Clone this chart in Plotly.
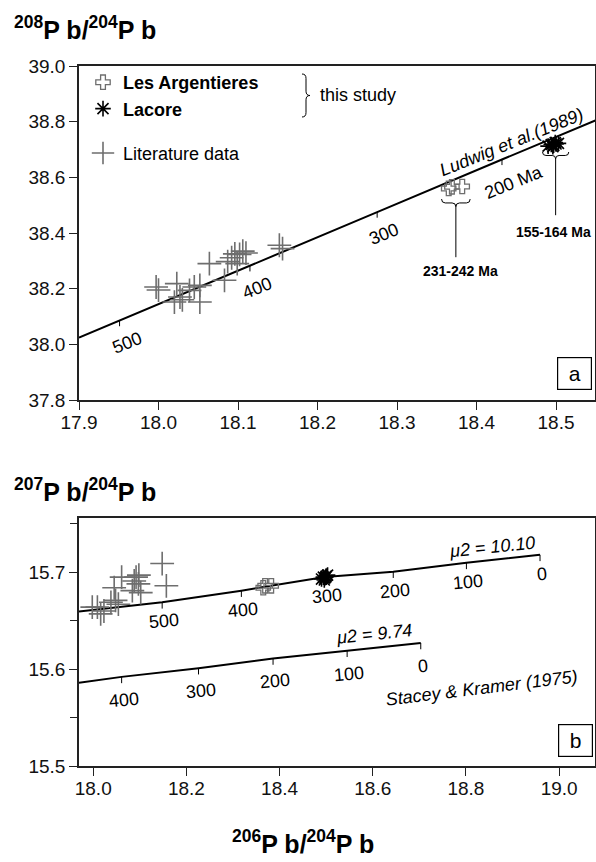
import plotly.graph_objects as go

# ---------------- data ----------------
# Panel a: 208Pb/204Pb vs 206Pb/204Pb
lud_x = [17.90, 17.951, 18.115, 18.275, 18.432, 18.55]
lud_y = [38.024, 38.085, 38.282, 38.475, 38.664, 38.805]
lud_age_lbl = ["500", "400", "300", "200 Ma"]
lud_age_x = [17.951, 18.115, 18.275, 18.432]
lud_age_y = [38.085, 38.282, 38.475, 38.664]

la_x = [18.365, 18.369, 18.382]
la_y208 = [38.560, 38.566, 38.567]
la_y207 = [15.684, 15.686, 15.686]

lac_x = [18.490, 18.494, 18.497, 18.500, 18.503, 18.496, 18.499]
lac_y208 = [38.712, 38.718, 38.715, 38.720, 38.722, 38.710, 38.725]
lac_y207 = [15.693, 15.695, 15.694, 15.696, 15.697, 15.692, 15.695]

lit_a_x = [17.997, 18.000, 18.023, 18.020, 18.027, 18.030, 18.039, 18.045, 18.052, 18.052,
           18.064, 18.083, 18.087, 18.092, 18.096, 18.099, 18.102, 18.106, 18.110, 18.152, 18.156]
lit_a_y = [38.206, 38.195, 38.218, 38.152, 38.170, 38.160, 38.194, 38.206, 38.212, 38.152,
           38.290, 38.230, 38.297, 38.311, 38.325, 38.290, 38.323, 38.335, 38.328, 38.356, 38.344]

# Panel b: 207Pb/204Pb vs 206Pb/204Pb
lit_b_x = [17.998, 18.009, 18.016, 18.023, 18.038, 18.045, 18.048, 18.054, 18.061, 18.084,
           18.088, 18.092, 18.097, 18.098, 18.102, 18.148, 18.157]
lit_b_y = [15.664, 15.664, 15.657, 15.660, 15.669, 15.684, 15.671, 15.667, 15.695, 15.681,
           15.691, 15.695, 15.688, 15.697, 15.679, 15.709, 15.686]

mu1010_x = [17.9695, 18.148, 18.318, 18.497, 18.644, 18.801, 18.959]
mu1010_y = [15.6595, 15.669, 15.681, 15.695, 15.7006, 15.7097, 15.718]
mu1010_age = [None, "500", "400", "300", "200", "100", "0"]

mu974_x = [17.9695, 18.061, 18.226, 18.386, 18.545, 18.703]
mu974_y = [15.586, 15.592, 15.601, 15.611, 15.619, 15.627]
mu974_age = [None, "400", "300", "200", "100", "0"]

# ---------------- layout helpers ----------------
W, H = 596, 862
ML, MR = 79, 1
PW = W - ML - MR
FONT = "Liberation Sans, Arial, sans-serif"
GRAY = "#6e6e6e"


def px(x):
    return (x - ML) / PW


def py(y):
    return 1 - y / H


fig = go.Figure()

# ---- panel a ----
fig.add_trace(go.Scatter(x=lud_x, y=lud_y, mode="lines", line=dict(color="black", width=2),
                         showlegend=False, hoverinfo="skip", xaxis="x", yaxis="y"))
tx, ty = [], []
for x, y in zip(lud_age_x, lud_age_y):
    tx += [x, x, None]
    ty += [y, y - 0.02, None]
fig.add_trace(go.Scatter(x=tx, y=ty, mode="lines", line=dict(color="black", width=1),
                         showlegend=False, hoverinfo="skip", xaxis="x", yaxis="y"))

fig.add_trace(go.Scatter(x=la_x, y=la_y208, mode="markers", name="<b>Les Argentieres</b>",
                         legendgroup="study",
                         marker=dict(symbol="cross-open", size=12, color=GRAY,
                                     line=dict(color=GRAY, width=1.3)),
                         xaxis="x", yaxis="y"))
fig.add_trace(go.Scatter(x=lac_x, y=lac_y208, mode="markers", name="<b>Lacore</b>",
                         legendgroup="study",
                         marker=dict(symbol="asterisk-open", size=13, color="black",
                                     line=dict(color="black", width=1.6)),
                         xaxis="x", yaxis="y"))
fig.add_trace(go.Scatter(x=lit_a_x, y=lit_a_y, mode="markers", name="Literature data",
                         legendgroup="lit",
                         marker=dict(symbol="cross-thin-open", size=17,
                                     line=dict(color=GRAY, width=1.6), color=GRAY),
                         xaxis="x", yaxis="y"))

# ---- panel b ----
for cx, cy in [(mu1010_x, mu1010_y), (mu974_x, mu974_y)]:
    fig.add_trace(go.Scatter(x=cx, y=cy, mode="lines", line=dict(color="black", width=2),
                             showlegend=False, hoverinfo="skip", xaxis="x2", yaxis="y2"))
tx, ty = [], []
for cx, cy, ca in [(mu1010_x, mu1010_y, mu1010_age), (mu974_x, mu974_y, mu974_age)]:
    for x, y, a in zip(cx, cy, ca):
        if a is None:
            continue
        tx += [x, x, None]
        ty += [y, y - 0.0065, None]
fig.add_trace(go.Scatter(x=tx, y=ty, mode="lines", line=dict(color="black", width=1),
                         showlegend=False, hoverinfo="skip", xaxis="x2", yaxis="y2"))

fig.add_trace(go.Scatter(x=lit_b_x, y=lit_b_y, mode="markers", showlegend=False,
                         marker=dict(symbol="cross-thin-open", size=17,
                                     line=dict(color=GRAY, width=1.6), color=GRAY),
                         xaxis="x2", yaxis="y2"))
fig.add_trace(go.Scatter(x=la_x, y=la_y207, mode="markers", showlegend=False,
                         marker=dict(symbol="cross-open", size=12, color=GRAY,
                                     line=dict(color=GRAY, width=1.3)),
                         xaxis="x2", yaxis="y2"))
fig.add_trace(go.Scatter(x=lac_x, y=lac_y207, mode="markers", showlegend=False,
                         marker=dict(symbol="asterisk-open", size=13, color="black",
                                     line=dict(color="black", width=1.6)),
                         xaxis="x2", yaxis="y2"))

# ---------------- annotations ----------------
ann = []
tick_font = dict(family=FONT, size=18, color="black")
for lbl, x, y in zip(lud_age_lbl, lud_age_x, lud_age_y):
    ann.append(dict(x=x, y=y, xref="x", yref="y", text=lbl, showarrow=False,
                    textangle=-22, xshift=7 + (5 if "Ma" in lbl else 0), yshift=-22,
                    font=tick_font))
ann.append(dict(x=18.4445, y=38.727, xref="x", yref="y", text="<i>Ludwig et al.(1989)</i>",
                showarrow=False, textangle=-22, font=tick_font))
ann.append(dict(x=18.380, y=38.263, xref="x", yref="y", text="<b>231-242 Ma</b>",
                showarrow=False, font=dict(family=FONT, size=14, color="black")))
ann.append(dict(x=18.497, y=38.4036, xref="x", yref="y", text="<b>155-164 Ma</b>",
                showarrow=False, font=dict(family=FONT, size=14, color="black")))

for cx, cy, ca, ys in [(mu1010_x, mu1010_y, mu1010_age, -19), (mu974_x, mu974_y, mu974_age, -23)]:
    for x, y, a in zip(cx, cy, ca):
        if a is None:
            continue
        ann.append(dict(x=x, y=y, xref="x2", yref="y2", text=a, showarrow=False,
                        textangle=-5, xshift=2, yshift=ys, font=tick_font))
ann.append(dict(x=18.855, y=15.726, xref="x2", yref="y2", text="<i>\u03bc2 = 10.10</i>",
                showarrow=False, textangle=-6, font=tick_font))
ann.append(dict(x=18.603, y=15.636, xref="x2", yref="y2", text="<i>\u03bc2 = 9.74</i>",
                showarrow=False, textangle=-6, font=tick_font))
ann.append(dict(x=18.834, y=15.5806, xref="x2", yref="y2", text="<i>Stacey & Kramer (1975)</i>",
                showarrow=False, textangle=-7, font=tick_font))

# panel letters
for letter, cxp, cyp in [("a", 574, 373), ("b", 575, 740)]:
    ann.append(dict(x=px(cxp), y=py(cyp), xref="paper", yref="paper", text=letter,
                    showarrow=False, width=25, height=23, borderpad=4,
                    xanchor="center", yanchor="middle",
                    bordercolor="black", borderwidth=1.2, bgcolor="white",
                    font=dict(family=FONT, size=21, color="black")))

# legend text
ann.append(dict(x=px(318), y=py(95), xref="paper", yref="paper", text="this study",
                xanchor="left", yanchor="middle", showarrow=False,
                font=dict(family=FONT, size=18, color="black")))

# axis titles
def pbtitle(n):
    return ("<b><sup>%s</sup>P b/<sup>204</sup>P b</b>" % n)

title_font = dict(family=FONT, size=25, color="black")
ann.append(dict(x=px(12), y=py(28), xref="paper", yref="paper", text=pbtitle("208"),
                xanchor="left", yanchor="middle", showarrow=False, font=title_font))
ann.append(dict(x=px(12), y=py(490), xref="paper", yref="paper", text=pbtitle("207"),
                xanchor="left", yanchor="middle", showarrow=False, font=title_font))
ann.append(dict(x=px(303), y=py(842), xref="paper", yref="paper", text=pbtitle("206"),
                xanchor="center", yanchor="middle", showarrow=False, font=title_font))

# ---------------- shapes ----------------
def hbrace(x0, x1, ytop, ytip):
    xm = (x0 + x1) / 2
    ym = (ytop + ytip) / 2
    q = (x1 - x0) * 0.13
    return (f"M{x0},{ytop} Q{x0},{ym} {x0 + q},{ym} L{xm - q},{ym} Q{xm},{ym} {xm},{ytip} "
            f"Q{xm},{ym} {xm + q},{ym} L{x1 - q},{ym} Q{x1},{ym} {x1},{ytop}")


def vbrace(xl, xr, ytop, ybot):
    xm = (xl + xr) / 2
    yc = (ytop + ybot) / 2
    q = (ytop - ybot) * 0.1
    return (f"M{xl},{ytop} Q{xm},{ytop} {xm},{ytop - q} L{xm},{yc + q} Q{xm},{yc} {xr},{yc} "
            f"Q{xm},{yc} {xm},{yc - q} L{xm},{ybot + q} Q{xm},{ybot} {xl},{ybot}")


shapes = [
    dict(type="path", xref="x", yref="y", path=hbrace(18.356, 18.392, 38.522, 38.494),
         line=dict(color="black", width=1)),
    dict(type="line", xref="x", yref="y", x0=18.374, x1=18.374, y0=38.494, y1=38.313,
         line=dict(color="black", width=1)),
    dict(type="path", xref="x", yref="y", path=hbrace(18.483, 18.516, 38.691, 38.666),
         line=dict(color="black", width=1)),
    dict(type="line", xref="x", yref="y", x0=18.4995, x1=18.4995, y0=38.666, y1=38.464,
         line=dict(color="black", width=1)),
    dict(type="path", xref="paper", yref="paper", path=vbrace(px(302), px(310), py(74), py(117)),
         line=dict(color="black", width=1)),
]

axis_common = dict(showgrid=False, zeroline=False, showline=True, linecolor="#222",
                   linewidth=1.6, mirror=True, ticks="outside", tickcolor="#222",
                   tickwidth=1.3, ticklen=8,
                   tickfont=dict(family=FONT, size=19, color="#111"), tickformat=".1f")

fig.update_layout(
    width=W, height=H,
    margin=dict(l=ML, r=MR, t=0, b=0, autoexpand=False),
    paper_bgcolor="white", plot_bgcolor="white",
    xaxis=dict(domain=[0, 1], range=[17.9, 18.549], dtick=0.1, anchor="y",
               ticklabelstandoff=-4, **axis_common),
    yaxis=dict(domain=[py(400), py(66)], range=[37.8, 39.0], dtick=0.2, anchor="x", **axis_common),
    xaxis2=dict(domain=[0, 1], range=[17.9695, 19.077], dtick=0.2, tick0=18.0, anchor="y2",
                ticklabelstandoff=-4, **axis_common),
    yaxis2=dict(domain=[py(766), py(518)], range=[15.5, 15.756], dtick=0.1, tick0=15.5, anchor="x2",
                minor=dict(dtick=0.05, ticks="outside", ticklen=7, tickcolor="#222", tickwidth=1.3),
                **axis_common),
    legend=dict(x=px(83), y=py(64), xanchor="left", yanchor="top",
                font=dict(family=FONT, size=18, color="black"),
                bgcolor="rgba(0,0,0,0)", tracegroupgap=18, traceorder="grouped"),
    annotations=ann,
    shapes=shapes,
)

fig.write_html("out.html", config={"displayModeBar": False},
               post_script="document.body.style.margin='0';document.body.style.padding='0';")
